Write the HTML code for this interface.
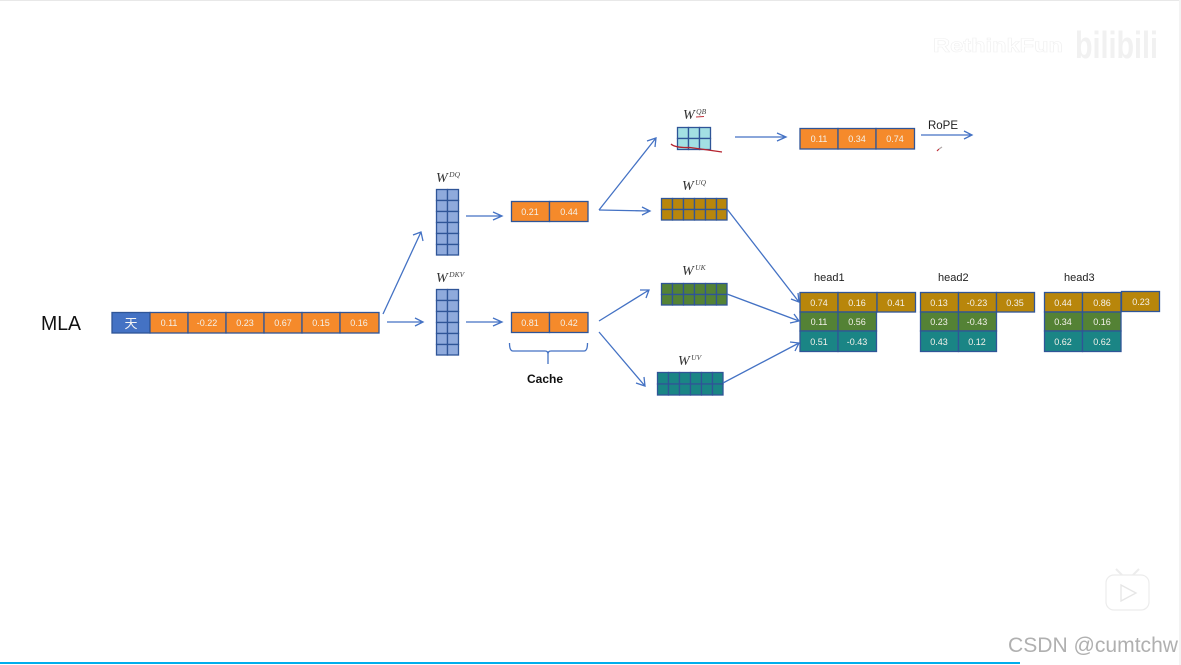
<!DOCTYPE html>
<html>
<head>
<meta charset="utf-8">
<style>
html,body{margin:0;padding:0;background:#fff;width:1181px;height:665px;overflow:hidden}
svg{display:block;filter:blur(0.3px)}
text{font-family:"Liberation Sans","Noto Sans CJK SC",sans-serif}
.v{font-size:9px;fill:#f4f1ea;text-anchor:middle}
.w{font-family:"Liberation Serif",serif;font-style:italic;fill:#333}
.w tspan{fill:#444}
.h{font-size:11px;fill:#222}
.a{fill:none;stroke:#4472c4;stroke-width:1.3}
.c{stroke:#2f5597;stroke-width:1.3}
</style>
</head>
<body>
<svg width="1181" height="665" viewBox="0 0 1181 665" xmlns="http://www.w3.org/2000/svg">
<rect x="0" y="0" width="1181" height="1" fill="#e8e8e8"/>
<rect x="1179" y="0" width="2" height="665" fill="#f3f3f3"/>

<text x="41" y="330" font-size="20" fill="#111" textLength="40" lengthAdjust="spacingAndGlyphs">MLA</text>

<!-- main row -->
<g class="c">
<rect x="112" y="312.500" width="38" height="20.500" fill="#4472c4"/>
<rect x="150" y="312.500" width="38" height="20.500" fill="#f58a2b"/>
<rect x="188" y="312.500" width="38" height="20.500" fill="#f58a2b"/>
<rect x="226" y="312.500" width="38" height="20.500" fill="#f58a2b"/>
<rect x="264" y="312.500" width="38" height="20.500" fill="#f58a2b"/>
<rect x="302" y="312.500" width="38" height="20.500" fill="#f58a2b"/>
<rect x="340" y="312.500" width="39" height="20.500" fill="#f58a2b"/>
</g>
<text x="131" y="328" font-size="13" fill="#f4f4f4" text-anchor="middle" style='font-family:"Noto Sans CJK SC",sans-serif'>天</text>
<text class="v" x="169" y="326">0.11</text>
<text class="v" x="207" y="326">-0.22</text>
<text class="v" x="245" y="326">0.23</text>
<text class="v" x="283" y="326">0.67</text>
<text class="v" x="321" y="326">0.15</text>
<text class="v" x="359" y="326">0.16</text>

<!-- WDQ matrix -->
<g class="c" fill="#8faadc">
<rect x="436.500" y="189.500" width="11" height="11"/><rect x="447.500" y="189.500" width="11" height="11"/>
<rect x="436.500" y="200.500" width="11" height="11"/><rect x="447.500" y="200.500" width="11" height="11"/>
<rect x="436.500" y="211.500" width="11" height="11"/><rect x="447.500" y="211.500" width="11" height="11"/>
<rect x="436.500" y="222.500" width="11" height="11"/><rect x="447.500" y="222.500" width="11" height="11"/>
<rect x="436.500" y="233.500" width="11" height="11"/><rect x="447.500" y="233.500" width="11" height="11"/>
<rect x="436.500" y="244.500" width="11" height="10.500"/><rect x="447.500" y="244.500" width="11" height="10.500"/>
</g>
<!-- WDKV matrix -->
<g class="c" fill="#8faadc">
<rect x="436.500" y="289.500" width="11" height="11"/><rect x="447.500" y="289.500" width="11" height="11"/>
<rect x="436.500" y="300.500" width="11" height="11"/><rect x="447.500" y="300.500" width="11" height="11"/>
<rect x="436.500" y="311.500" width="11" height="11"/><rect x="447.500" y="311.500" width="11" height="11"/>
<rect x="436.500" y="322.500" width="11" height="11"/><rect x="447.500" y="322.500" width="11" height="11"/>
<rect x="436.500" y="333.500" width="11" height="11"/><rect x="447.500" y="333.500" width="11" height="11"/>
<rect x="436.500" y="344.500" width="11" height="10.500"/><rect x="447.500" y="344.500" width="11" height="10.500"/>
</g>
<text class="w" x="436" y="182" font-size="14">W<tspan font-size="7.500" dx="1.500" dy="-5">DQ</tspan></text>
<text class="w" x="436" y="282" font-size="14">W<tspan font-size="7.500" dx="1.500" dy="-5">DKV</tspan></text>

<!-- orange pairs -->
<g class="c" fill="#f58a2b">
<rect x="511.500" y="201.500" width="38" height="20"/><rect x="549.500" y="201.500" width="38.500" height="20"/>
<rect x="511.500" y="312.500" width="38" height="20"/><rect x="549.500" y="312.500" width="38.500" height="20"/>
</g>
<text class="v" x="530" y="215">0.21</text><text class="v" x="569" y="215">0.44</text>
<text class="v" x="530" y="326">0.81</text><text class="v" x="569" y="326">0.42</text>

<!-- cache brace -->
<path class="a" d="M509.500 343 Q509.500 351 513 351 L545 351 Q548 351 548 354 L548 364 M548 354 Q548 351 551 351 L584 351 Q587.500 351 587.500 343"/>
<text x="545" y="383" font-size="12" font-weight="bold" fill="#111" text-anchor="middle">Cache</text>

<!-- WQB matrix -->
<g class="c" fill="#a3e0e3">
<rect x="677.500" y="127.500" width="11" height="11"/><rect x="688.500" y="127.500" width="11" height="11"/><rect x="699.500" y="127.500" width="11" height="11"/>
<rect x="677.500" y="138.500" width="11" height="11"/><rect x="688.500" y="138.500" width="11" height="11"/><rect x="699.500" y="138.500" width="11" height="11"/>
</g>
<text class="w" x="683" y="119" font-size="14">W<tspan font-size="7.500" dx="1.500" dy="-5">QB</tspan></text>
<path d="M671 144 Q675 148 690 147.500 L708 150 L722 152" fill="none" stroke="#b5232f" stroke-width="1.300"/>
<path d="M696 117 L704 116.500" stroke="#c0303a" stroke-width="1" fill="none"/>

<!-- QB output -->
<g class="c" fill="#f58a2b">
<rect x="800" y="128.500" width="38" height="20.500"/><rect x="838" y="128.500" width="38" height="20.500"/><rect x="876" y="128.500" width="38.500" height="20.500"/>
</g>
<text class="v" x="819" y="142">0.11</text><text class="v" x="857" y="142">0.34</text><text class="v" x="895" y="142">0.74</text>
<text x="928" y="129" font-size="12" fill="#222" textLength="30" lengthAdjust="spacingAndGlyphs">RoPE</text>
<path d="M937 151 L939 149" stroke="#c0303a" stroke-width="1.200" fill="none"/>
<path d="M939 149 L942 147" stroke="#b0a8a8" stroke-width="1.200" fill="none"/>

<!-- WUQ matrix -->
<g class="c" fill="#b8860b">
<rect x="661.500" y="198.500" width="11" height="11"/><rect x="672.500" y="198.500" width="11" height="11"/><rect x="683.500" y="198.500" width="11" height="11"/><rect x="694.500" y="198.500" width="11" height="11"/><rect x="705.500" y="198.500" width="11" height="11"/><rect x="716.500" y="198.500" width="10.500" height="11"/>
<rect x="661.500" y="209.500" width="11" height="10.500"/><rect x="672.500" y="209.500" width="11" height="10.500"/><rect x="683.500" y="209.500" width="11" height="10.500"/><rect x="694.500" y="209.500" width="11" height="10.500"/><rect x="705.500" y="209.500" width="11" height="10.500"/><rect x="716.500" y="209.500" width="10.500" height="10.500"/>
</g>
<text class="w" x="682" y="190" font-size="14">W<tspan font-size="7.500" dx="1.500" dy="-5">UQ</tspan></text>

<!-- WUK matrix -->
<g class="c" fill="#548235">
<rect x="661.500" y="283.500" width="11" height="11"/><rect x="672.500" y="283.500" width="11" height="11"/><rect x="683.500" y="283.500" width="11" height="11"/><rect x="694.500" y="283.500" width="11" height="11"/><rect x="705.500" y="283.500" width="11" height="11"/><rect x="716.500" y="283.500" width="10.500" height="11"/>
<rect x="661.500" y="294.500" width="11" height="10.500"/><rect x="672.500" y="294.500" width="11" height="10.500"/><rect x="683.500" y="294.500" width="11" height="10.500"/><rect x="694.500" y="294.500" width="11" height="10.500"/><rect x="705.500" y="294.500" width="11" height="10.500"/><rect x="716.500" y="294.500" width="10.500" height="10.500"/>
</g>
<text class="w" x="682" y="275" font-size="14">W<tspan font-size="7.500" dx="1.500" dy="-5">UK</tspan></text>

<!-- WUV matrix -->
<g class="c" fill="#1a8585">
<rect x="657.500" y="372.500" width="11" height="11.500"/><rect x="668.500" y="372.500" width="11" height="11.500"/><rect x="679.500" y="372.500" width="11" height="11.500"/><rect x="690.500" y="372.500" width="11" height="11.500"/><rect x="701.500" y="372.500" width="11" height="11.500"/><rect x="712.500" y="372.500" width="10.500" height="11.500"/>
<rect x="657.500" y="384" width="11" height="11"/><rect x="668.500" y="384" width="11" height="11"/><rect x="679.500" y="384" width="11" height="11"/><rect x="690.500" y="384" width="11" height="11"/><rect x="701.500" y="384" width="11" height="11"/><rect x="712.500" y="384" width="10.500" height="11"/>
</g>
<text class="w" x="678" y="365" font-size="14">W<tspan font-size="7.500" dx="1.500" dy="-5">UV</tspan></text>

<!-- head1 -->
<text class="h" x="814" y="281">head1</text>
<g class="c">
<g fill="#b8860b"><rect x="800" y="292.500" width="38" height="19.500"/><rect x="838" y="292.500" width="39" height="19.500"/><rect x="877" y="292.500" width="38.500" height="19.500"/></g>
<g fill="#548235"><rect x="800" y="312" width="38" height="19"/><rect x="838" y="312" width="38.500" height="19"/></g>
<g fill="#1a8585"><rect x="800" y="331" width="38" height="20.500"/><rect x="838" y="331" width="38.500" height="20.500"/></g>
</g>
<text class="v" x="819" y="306">0.74</text><text class="v" x="857" y="306">0.16</text><text class="v" x="896" y="306">0.41</text>
<text class="v" x="819" y="325">0.11</text><text class="v" x="857" y="325">0.56</text>
<text class="v" x="819" y="345">0.51</text><text class="v" x="857" y="345">-0.43</text>

<!-- head2 -->
<text class="h" x="938" y="281">head2</text>
<g class="c">
<g fill="#b8860b"><rect x="920.500" y="292.500" width="38" height="19.500"/><rect x="958.500" y="292.500" width="38" height="19.500"/><rect x="996.500" y="292.500" width="38" height="19.500"/></g>
<g fill="#548235"><rect x="920.500" y="312" width="38" height="19"/><rect x="958.500" y="312" width="38" height="19"/></g>
<g fill="#1a8585"><rect x="920.500" y="331" width="38" height="20.500"/><rect x="958.500" y="331" width="38" height="20.500"/></g>
</g>
<text class="v" x="939" y="306">0.13</text><text class="v" x="977" y="306">-0.23</text><text class="v" x="1015" y="306">0.35</text>
<text class="v" x="939" y="325">0.23</text><text class="v" x="977" y="325">-0.43</text>
<text class="v" x="939" y="345">0.43</text><text class="v" x="977" y="345">0.12</text>

<!-- head3 -->
<text class="h" x="1064" y="281">head3</text>
<g class="c">
<g fill="#b8860b"><rect x="1044.500" y="292.500" width="38" height="19.500"/><rect x="1082.500" y="292.500" width="38.500" height="19.500"/><rect x="1121.500" y="291.500" width="38" height="20"/></g>
<g fill="#548235"><rect x="1044.500" y="312" width="38" height="19"/><rect x="1082.500" y="312" width="38.500" height="19"/></g>
<g fill="#1a8585"><rect x="1044.500" y="331" width="38" height="20.500"/><rect x="1082.500" y="331" width="38.500" height="20.500"/></g>
</g>
<text class="v" x="1063" y="306">0.44</text><text class="v" x="1102" y="306">0.86</text><text class="v" x="1141" y="305">0.23</text>
<text class="v" x="1063" y="325">0.34</text><text class="v" x="1102" y="325">0.16</text>
<text class="v" x="1063" y="345">0.62</text><text class="v" x="1102" y="345">0.62</text>

<!-- arrows -->
<g class="a">
<path d="M383 314 L421 232 M413 235 L421 232 L423 241"/>
<path d="M387 322 L423 322 M415 318 L423 322 L415 326"/>
<path d="M466 216 L502 216 M493 212 L502 216 L493 220"/>
<path d="M466 322 L502 322 M493 318 L502 322 L493 326"/>
<path d="M599 210 L656 138 M647 141 L656 138 L655 147"/>
<path d="M599 210 L650 211 M642 207 L650 211 L642 215"/>
<path d="M599 321 L649 290 M640 290 L649 290 L646 298"/>
<path d="M599 332 L645 386 M636 383 L645 386 L644 377"/>
<path d="M735 137 L786 137 M777 133 L786 137 L777 141"/>
<path d="M921 135 L972 135 M964 131 L972 135 L964 139"/>
<path d="M727 209 L799 302 M791 299 L799 302 L798 293"/>
<path d="M727 294 L799 321 M790 323 L799 321 L794 314"/>
<path d="M723 383 L799 343 M790 342 L799 343 L795 351"/>
</g>

<!-- watermark -->
<text x="933" y="52" font-size="19" font-weight="bold" fill="#ffffff" stroke="#f0f0f0" stroke-width="0.600" textLength="130" lengthAdjust="spacingAndGlyphs">RethinkFun</text>
<text x="1075" y="58" font-size="38" font-weight="bold" fill="#f1f1f1" textLength="83" lengthAdjust="spacingAndGlyphs">bilibili</text>

<!-- play badge -->
<path d="M1116 569 L1122 575 M1139 569 L1133 575" stroke="#ececec" stroke-width="2" fill="none"/>
<rect x="1106" y="575" width="43" height="35" rx="8" fill="#fff" stroke="#ececec" stroke-width="1.200"/>
<path d="M1121 585 L1136 593 L1121 601 Z" fill="none" stroke="#e6e6e6" stroke-width="1.300"/>

<text x="1008" y="652" fill="#b0b0b0" textLength="170" lengthAdjust="spacingAndGlyphs" style="font-size:21px">CSDN @cumtchw</text>

<rect x="0" y="662" width="1020" height="2" fill="#00aeec"/>
</svg>
</body>
</html>
